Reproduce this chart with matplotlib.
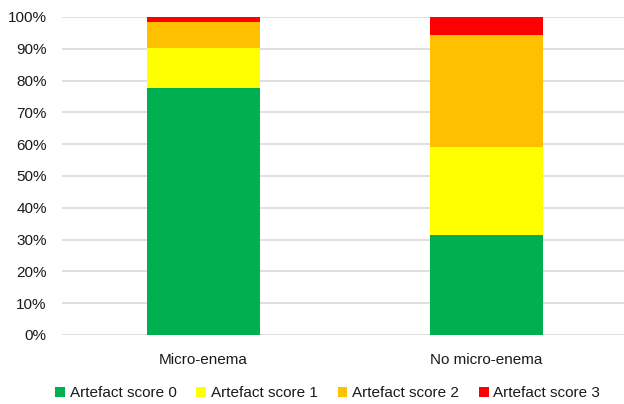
import matplotlib.pyplot as plt
import numpy as np
from matplotlib.ticker import PercentFormatter

categories = ["Micro-enema", "No micro-enema"]
series_names = ["Artefact score 0", "Artefact score 1", "Artefact score 2", "Artefact score 3"]
score0 = [77.7, 31.3]
score1 = [12.6, 27.7]
score2 = [8.1, 35.2]
score3 = [1.6, 5.8]
colors = ["#00B050", "#FFFF00", "#FFC000", "#FF0000"]

plt.rcParams['font.family'] = ['Liberation Sans', 'DejaVu Sans']

fig = plt.figure(figsize=(6.24, 4.04), dpi=100)
ax = fig.add_axes([62 / 624, 1 - 335 / 404, 566 / 624, 318 / 404])

x = np.arange(len(categories))
bottom = np.zeros(len(categories))
for name, vals, c in zip(series_names, [score0, score1, score2, score3], colors):
    ax.bar(x, vals, 0.4, bottom=bottom, color=c, label=name, zorder=3)
    bottom += np.array(vals)

ax.set_xlim(-0.5, 1.5)
ax.set_ylim(0, 100)
ax.set_yticks(np.arange(0, 101, 10))
ax.yaxis.set_major_formatter(PercentFormatter(decimals=0))
ax.grid(axis='y', color='#d9d9d9', linewidth=1.2, zorder=0)
for s in ax.spines.values():
    s.set_visible(False)
ax.tick_params(length=0, labelsize=11, colors='#1a1a1a')
ax.tick_params(axis='y', pad=11)
ax.tick_params(axis='x', pad=13)
ax.set_xticks(x)
ax.set_xticklabels(categories)

fig.legend(loc='lower center', bbox_to_anchor=(0.525, -0.025), ncol=4, frameon=False,
           fontsize=11, handlelength=0.65, handleheight=0.65, handletextpad=0.3,
           columnspacing=1.3, labelcolor='#1a1a1a')

fig.savefig("out.png", dpi=100)
